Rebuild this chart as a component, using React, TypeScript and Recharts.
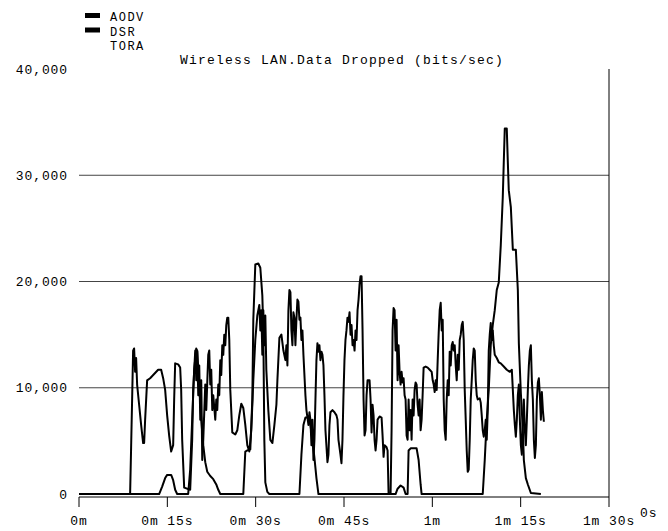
import React from 'react';
import { LineChart, Line, XAxis, YAxis, ReferenceLine } from 'recharts';

const FONT = "'Liberation Mono', 'DejaVu Sans Mono', monospace";

const title = 'Wireless LAN.Data Dropped (bits/sec)';
const seriesNames = ['AODV', 'DSR', 'TORA'];
const seriesHasSwatch = [true, true, false];
const xUnit = '0s';

const xTicks = [0, 15, 30, 45, 60, 75, 90];
const xTickLabels = ['0m', '0m 15s', '0m 30s', '0m 45s', '1m', '1m 15s', '1m 30s'];
const yTicks = [0, 10000, 20000, 30000, 40000];
const gridLevels = [10000, 20000, 30000];

// [time (s), bits/sec]
const aodvPoints: [number, number][] = [
  [0,0],[8.68,0],[8.85,4400],[9.02,8900],[9.19,13500],[9.36,13700],[9.53,11500],[9.70,12800],[9.87,10300],[10.21,8400],[10.55,6500],[10.89,4800],[11.06,4800],[11.23,7000],[11.57,10700],[12.08,10900],[12.76,11300],[13.44,11700],[13.95,11700],[14.29,10900],[14.63,9800],[14.97,7400],[15.31,5500],[15.65,4000],[15.99,4600],[16.16,8900],[16.33,12300],[16.84,12200],[17.18,11900],[17.35,9800],[17.52,5100],[17.86,600],[18.88,400],
  [19.22,5100],[19.39,9800],[19.74,13500],[19.91,10700],[20.08,13500],[20.25,9300],[20.42,12100],[20.59,7000],[20.76,10700],[20.93,3200],[21.10,5100],[21.44,10300],[21.61,7900],[21.95,13100],[22.12,13500],[22.29,10300],[22.46,11700],[22.63,7900],[22.80,9300],[23.14,7000],[23.31,8900],[23.48,7900],[23.65,10300],[23.82,9300],[23.99,12600],[24.16,11200],[24.33,14000],[24.50,13100],[24.67,15000],[24.84,14000],[25.01,15900],[25.18,16600],[25.35,16600],[25.52,14500],[25.69,9800],[26.03,5800],[26.54,5600],[26.88,6000],[27.22,7400],[27.56,8500],[27.90,8100],[28.24,6500],[28.58,4600],[28.92,4000],[29.26,6000],[29.60,10700],[29.94,14500],[30.28,16800],[30.62,17800],[30.79,15400],[30.96,17300],[31.13,13100],[31.30,17300],[31.47,14000],[31.64,16800],[31.81,11700],[32.15,7900],[32.49,5100],[32.84,4800],[33.18,6500],[33.52,8400],[33.69,10700],[34.03,14700],[34.37,15000],[34.71,13500],[35.05,12600],[35.22,14000],[35.39,12100],[35.56,17300],[35.73,19200],[35.90,19000],[36.07,15400],[36.24,14000],[36.41,17100],[36.58,16600],[36.75,14000],[36.92,16400],[37.09,18300],[37.26,18100],[37.43,16400],[37.60,16600],[37.77,14500],[37.94,15400],[38.11,13100],[38.45,9300],[38.62,7900],[38.96,6500],[39.13,7700],[39.30,7000],[39.47,4600],[39.64,7000],[39.81,3200],[39.98,5100],
  [40.15,8900],[40.32,12600],[40.49,14200],[40.66,13400],[40.83,14000],[41.00,12600],[41.17,13400],[41.34,13100],[41.51,12100],[41.68,9300],[41.85,6000],[42.19,3000],[42.36,3700],[42.53,6500],[42.70,7700],[43.04,7900],[43.38,7700],[43.72,7400],[43.89,7000],[44.06,5100],[44.40,3700],[44.57,2900],[44.74,5100],[44.91,9300],[45.08,12600],[45.25,14500],[45.42,15400],[45.59,16600],[45.76,16200],[45.94,17100],[46.11,15000],[46.28,15900],[46.45,14000],[46.62,14500],[46.79,13500],[46.96,15400],[47.13,14500],[47.30,17300],[47.47,18300],[47.64,19700],[47.81,20500],[47.98,20500],[48.15,15400],[48.32,8900],[48.49,5500],[48.66,6000],[48.83,9300],[49.00,10700],[49.34,10700],[49.51,8900],[49.68,5800],[49.85,8400],[50.02,7400],[50.19,5100],[50.36,4100],[50.53,5100],[50.70,7000],[51.04,7300],[51.38,7200],[51.55,5500],[51.72,3500],[51.89,4600],[52.23,4400],[52.40,4100],[52.57,0],[52.91,0],
  [53.08,6000],[53.25,15400],[53.42,17500],[53.59,17300],[53.76,13500],[53.93,16400],[54.10,10700],[54.27,14000],[54.44,11500],[54.61,10300],[54.78,11500],[54.95,10500],[55.12,10900],[55.29,9300],[55.46,8900],[55.63,5500],[55.80,5100],[55.97,8900],[56.14,6000],[56.31,7900],[56.48,5100],[56.65,8900],[56.82,7400],[56.99,9800],[57.16,10500],[57.33,10300],[57.50,8400],[57.67,7400],[57.84,8900],[58.01,6000],[58.18,7000],[58.35,9300],[58.52,11900],[58.86,12000],[59.21,11900],[59.55,11700],[59.89,11500],[60.06,10700],[60.23,10300],[60.40,9600],[60.57,10700],[60.74,9800],[60.91,12600],[61.08,15200],[61.25,17300],[61.42,18000],[61.59,15400],[61.76,16400],[61.93,8900],[62.10,6000],[62.27,5100],[62.44,8900],[62.61,10700],[62.78,9300],[62.95,13400],[63.12,12100],[63.29,14000],[63.46,14300],[63.63,13500],[63.80,14000],[63.97,12100],[64.14,10700],[64.31,13100],[64.48,11700],[64.65,14500],[64.82,15000],[64.99,15900],[65.16,16200],[65.33,14500],[65.50,9800],[65.67,7000],[65.84,4100],[66.01,2100],[66.18,2300],[66.35,5100],[66.52,8900],[66.69,10700],[66.86,12600],[67.03,13700],[67.20,13500],[67.37,10700],[67.54,9300],[67.71,8900],[68.05,9000],[68.22,8600],[68.39,7400],[68.56,6000],[68.73,5400],[68.90,6000],[69.07,7000],[69.24,5100],[69.41,7900],[69.58,13500],[69.75,15000],[69.92,16100],[70.09,14500],[70.26,15400],[70.43,14000],[70.60,13100],[70.94,12800],[71.28,12400],[71.62,12300],[72.13,12000],[72.64,11700],[73.16,11500],[73.50,11700],[73.67,9800],[73.84,7900],[74.01,6500],[74.18,5400],[74.35,7000],[74.52,9300],[74.69,10300],[74.86,7000],[75.03,4600],[75.20,3700],[75.37,7000],[75.54,8900],[75.71,6000],[75.88,4600],[76.05,7000],[76.22,9800],[76.39,12100],[76.56,13500],[76.73,14000],[76.90,10700],[77.07,8900],[77.24,5100],[77.41,3400],[77.58,4600],[77.75,8900],[77.92,10500],[78.09,10900],[78.26,9300],[78.43,7000],[78.60,9600],[78.77,7900],[78.94,6800],
];

const dsrPoints: [number, number][] = [
  [0,0],[13.61,0],[14.12,700],[14.63,1500],[14.97,1800],[15.65,1800],[15.99,1300],[16.33,400],[16.67,0],[18.54,0],[18.88,2300],[19.22,7000],[19.56,11700],[19.91,13700],[20.08,13400],[20.42,10300],[20.76,7000],[21.10,4600],[21.44,3000],[21.78,2100],[22.29,1700],[22.80,1400],[23.31,900],[23.65,400],[23.99,0],
  [27.90,0],[28.24,4000],[28.58,4100],[29.09,4200],[29.43,8900],[29.60,16400],[29.94,21600],[30.45,21700],[30.79,21300],[31.13,18700],[31.30,15400],[31.47,5100],[31.64,1100],[31.98,200],[32.32,0],
  [37.43,0],[37.77,3700],[38.11,6500],[38.45,7200],[38.96,7200],[39.30,6500],[39.64,5100],[39.98,3400],[40.32,1500],[40.66,0],
  [53.76,0],[54.10,500],[54.61,800],[55.12,600],[55.46,0],[55.80,0],[55.97,4100],[56.31,4300],[57.33,4300],[57.67,3200],[58.01,900],[58.18,0],
  [68.56,0],[68.90,3200],[69.24,7000],[69.58,9800],[69.92,14000],[70.26,15900],[70.60,17300],[70.94,19200],[71.28,19900],[71.62,23400],[71.96,27900],[72.13,31200],[72.30,34400],[72.64,34400],[72.81,31400],[72.98,28600],[73.33,27000],[73.67,23000],[74.18,23000],[74.52,19200],[74.69,14200],[75.03,9500],[75.37,6000],[75.54,3200],[75.88,1500],[76.22,900],[76.73,100],[78.43,0],
];

type Row = { t: number; aodv?: number; dsr?: number };

function buildTable(): Row[] {
  const map = new Map<number, Row>();
  const put = (pts: [number, number][], key: 'aodv' | 'dsr') => {
    pts.forEach(([t, v]) => {
      const r = map.get(t) || { t };
      r[key] = v;
      map.set(t, r);
    });
  };
  put(aodvPoints, 'aodv');
  put(dsrPoints, 'dsr');
  return Array.from(map.values()).sort((a, b) => a.t - b.t);
}

const table = buildTable();

const YTick = (props: any) => {
  const { x, y, payload } = props;
  return (
    <text x={x} y={y} dy={4.5} textAnchor="end" fontFamily={FONT} fontSize={13} letterSpacing={0.9} fill="#000">
      {Number(payload.value).toLocaleString('en-US')}
    </text>
  );
};

const XTick = (props: any) => {
  const { x, y, payload } = props;
  const idx = xTicks.indexOf(payload.value);
  return (
    <text x={x} y={y} dy={16} textAnchor="middle" fontFamily={FONT} fontSize={13} letterSpacing={0.9} fill="#000">
      {xTickLabels[idx]}
    </text>
  );
};

export default function App() {
  return (
    <div style={{ position: 'absolute', left: 0, top: 0, width: 668, height: 531, background: '#fff' }}>
      <LineChart
        width={668}
        height={531}
        data={table}
        margin={{ top: 69, right: 59, bottom: 0, left: 0 }}
      >
        <XAxis
          type="number"
          dataKey="t"
          domain={[0, 90]}
          ticks={xTicks}
          interval={0}
          height={34}
          tickSize={10}
          tickMargin={2}
          axisLine={{ stroke: '#000', strokeWidth: 1 }}
          tickLine={{ stroke: '#000', strokeWidth: 1 }}
          tick={<XTick />}
        />
        <YAxis
          type="number"
          domain={[-280, 40000]}
          ticks={yTicks}
          interval={0}
          width={79}
          axisLine={false}
          tickLine={false}
          tickSize={0}
          tickMargin={11}
          tick={<YTick />}
        />
        {gridLevels.map((g) => (
          <ReferenceLine key={g} y={g} stroke="#444" strokeWidth={1} />
        ))}
        <ReferenceLine x={90} stroke="#000" strokeWidth={1} />
        <Line
          type="linear"
          dataKey="aodv"
          stroke="#000"
          strokeWidth={2}
          strokeLinejoin="round"
          dot={false}
          connectNulls
          isAnimationActive={false}
        />
        <Line
          type="linear"
          dataKey="dsr"
          stroke="#000"
          strokeWidth={2}
          strokeLinejoin="round"
          dot={false}
          connectNulls
          isAnimationActive={false}
        />
      </LineChart>
      <svg
        width={668}
        height={531}
        style={{ position: 'absolute', left: 0, top: 0, pointerEvents: 'none' }}
      >
        {seriesNames.map((name, i) => (
          <g key={name}>
            {seriesHasSwatch[i] && <rect x={85} y={13 + i * 14.5} width={15} height={5} fill="#000" />}
            <text x={110} y={21 + i * 14.5} fontFamily={FONT} fontSize={12} letterSpacing={1.5} fill="#000">
              {name}
            </text>
          </g>
        ))}
        <text x={342} y={63.5} textAnchor="middle" fontFamily={FONT} fontSize={13} letterSpacing={1.2} fill="#000">
          {title}
        </text>
        <text x={640} y={517} fontFamily={FONT} fontSize={13} letterSpacing={0.9} fill="#000">
          {xUnit}
        </text>
      </svg>
    </div>
  );
}
